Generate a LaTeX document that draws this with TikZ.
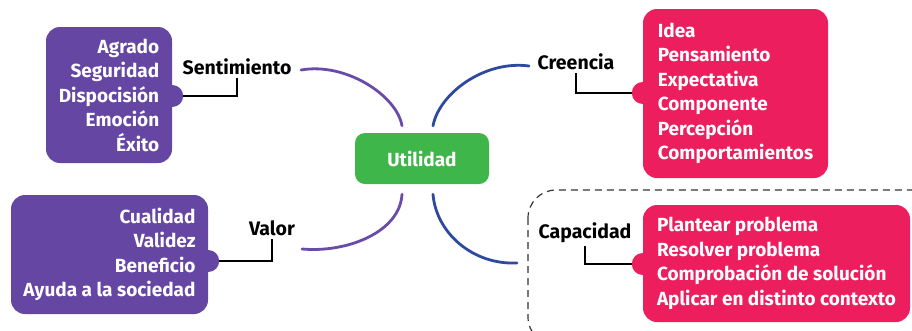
\documentclass[tikz,border=0pt]{standalone}
\usepackage{fontspec}
\setmainfont{Fira Sans}
\usepackage{tikz}
\usetikzlibrary{positioning}
\definecolor{morado}{HTML}{6546A3}
\definecolor{rosa}{HTML}{EC1E5E}
\definecolor{verde}{HTML}{3FB649}
\definecolor{azul}{HTML}{2E4A9F}
\definecolor{lila}{HTML}{6A4BA8}
\begin{document}
\begin{tikzpicture}[x=1pt,y=-1pt,
    caja/.style={rounded corners=14pt, text=white, inner xsep=5pt, inner ysep=0pt,
      font=\bfseries\fontsize{19}{24.5}\selectfont},
    etiqueta/.style={font=\bfseries\fontsize{19.5}{22}\selectfont, inner sep=3pt},
    punto/.style={circle, minimum size=22pt, inner sep=0pt},
    rama/.style={line width=2.8pt, line cap=round},
    enlace/.style={line width=1.5pt}]
    \useasboundingbox (0,0) rectangle (912,330);
    \clip (0,0) rectangle (912,330);
    % Centro
    \node[fill=verde, rounded corners=10pt, minimum width=134pt, minimum height=51pt,
      text=white, font=\bfseries\fontsize{19}{22}\selectfont] (util) at (422,158.5) {Utilidad};
    % Sentimiento
    \node[caja, fill=morado, minimum width=126pt, minimum height=136pt,
      align=right] (sbox) at (109,95) {Agrado\\Seguridad\\Dispocisión\\Emoción\\Éxito};
    \node[punto, fill=morado] (sdot) at (sbox.east |- 0,96) {};
    \node[etiqueta] (sent) at (237,67) {Sentimiento};
    \draw[enlace] (sdot.east) -| (sent.south);
    % Creencia
    \node[caja, fill=rosa, minimum width=185pt, minimum height=169pt,
      align=left] (cbox) at (735.5,93.5) {Idea\\Pensamiento\\Expectativa\\Componente\\Percepción\\Comportamientos};
    \node[punto, fill=rosa] (cdot) at (cbox.west |- 0,93) {};
    \node[etiqueta] (cree) at (576,62) {Creencia};
    \draw[enlace] (cdot.west) -| (cree.south);
    % Valor
    \node[caja, fill=morado, minimum width=197pt, minimum height=119pt,
      align=right] (vbox) at (109.5,254.5) {Cualidad\\Validez\\Beneficio\\Ayuda a la sociedad};
    \node[punto, fill=morado] (vdot) at (vbox.east |- 0,261) {};
    \node[etiqueta] (valor) at (272,228) {Valor};
    \draw[enlace] (vdot.east) -| (valor.south);
    % Capacidad
    \draw[dashed, dash pattern=on 7pt off 5pt, line width=1.2pt, black!80,
      rounded corners=28pt] (528,190) rectangle (940,345);
    \node[caja, fill=rosa, minimum width=267pt, minimum height=117pt,
      align=left] (pbox) at (776.5,263.5) {Plantear problema\\Resolver problema\\Comprobación de solución\\Aplicar en distinto contexto};
    \node[punto, fill=rosa] (pdot) at (pbox.west |- 0,264) {};
    \node[etiqueta] (capa) at (585,233) {Capacidad};
    \draw[enlace] (pdot.west) -| (capa.south);
    % Ramas
    \coordinate (s1) at (301,70);
    \coordinate (c1) at (529,66);
    \coordinate (v1) at (302,249);
    \coordinate (p1) at (517,263);
    \draw[rama, lila] ([xshift=-20pt,yshift=7pt]util.north) .. controls +(-5,-30) and +(45,-8) .. (s1);
    \draw[rama, azul] ([xshift=11pt,yshift=7pt]util.north) .. controls +(6,-32) and +(-45,-6) .. (c1);
    \draw[rama, lila] ([xshift=-20pt,yshift=-10pt]util.south) .. controls +(-2,38) and +(45,4) .. (v1);
    \draw[rama, azul] ([xshift=11pt,yshift=-10pt]util.south) .. controls +(3,38) and +(-45,2) .. (p1);
\end{tikzpicture}
\end{document}
